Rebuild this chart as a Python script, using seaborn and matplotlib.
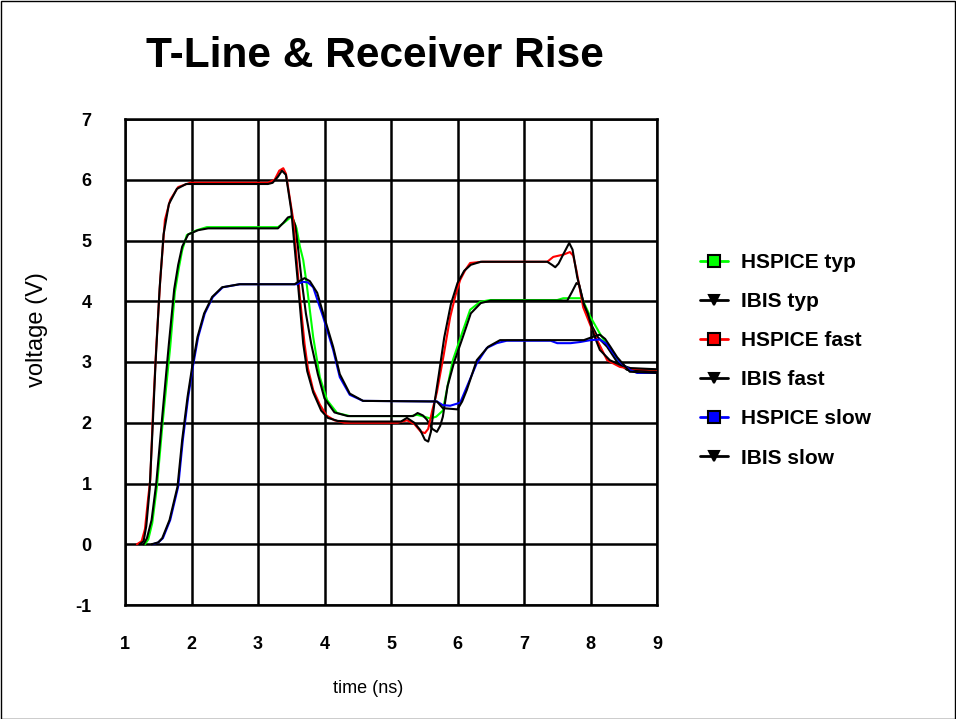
import matplotlib
matplotlib.use("Agg")
import matplotlib.pyplot as plt
from matplotlib.lines import Line2D
from matplotlib.patches import Rectangle
import seaborn as sns
import pandas as pd

# ---------------- data ----------------
hs_fast_x = [1.18, 1.25, 1.3, 1.35, 1.38, 1.42, 1.47, 1.53, 1.6, 1.68, 1.8, 1.98, 3.15, 3.25, 3.32, 3.38, 3.42,
             3.53, 3.63, 3.7, 3.75, 3.83, 3.93, 4.03, 4.15, 4.3, 5.1, 5.24, 5.35, 5.45, 5.51, 5.56, 5.62, 5.69,
             5.79, 5.89, 5.97, 6.04, 6.12, 6.19, 6.38, 7.35, 7.44, 7.6, 7.69, 7.74, 7.79, 7.89, 8.0, 8.1, 8.25,
             8.44, 8.6, 9.0]
hs_fast_y = [0.0, 0.05, 0.25, 0.78, 1.06, 2.16, 3.25, 4.35, 5.34, 5.67, 5.88, 5.95, 5.95, 6.0, 6.15, 6.19, 6.1,
             5.34, 4.07, 3.3, 2.9, 2.54, 2.3, 2.12, 2.04, 2.0, 2.0, 2.04, 1.98, 1.85, 1.83, 1.9, 2.2, 2.5,
             3.1, 3.74, 4.1, 4.35, 4.52, 4.63, 4.65, 4.65, 4.73, 4.77, 4.81, 4.75, 4.5, 3.9, 3.6, 3.36, 3.03,
             2.92, 2.89, 2.87]

ibis_fast_x = [1.22, 1.28, 1.32, 1.37, 1.41, 1.46, 1.52, 1.58, 1.66, 1.78, 1.92, 3.15, 3.22, 3.3, 3.36, 3.42,
               3.5, 3.6, 3.68, 3.74, 3.83, 3.95, 4.05, 4.2, 4.4, 5.15, 5.24, 5.35, 5.44, 5.51, 5.56, 5.6, 5.65,
               5.72, 5.8, 5.9, 6.0, 6.1, 6.2, 6.35, 7.35, 7.42, 7.47, 7.52, 7.58, 7.68, 7.73, 7.8, 7.9, 7.96,
               8.05, 8.14, 8.29, 8.45, 8.6, 9.0]
ibis_fast_y = [0.0, 0.05, 0.3, 0.9, 1.8, 3.0, 4.2, 5.1, 5.6, 5.85, 5.93, 5.93, 5.95, 6.05, 6.15, 6.08,
               5.5, 4.3, 3.3, 2.85, 2.5, 2.2, 2.08, 2.03, 2.02, 2.02, 2.08, 2.0, 1.88, 1.72, 1.69, 1.85, 2.3,
               2.8, 3.4, 3.95, 4.3, 4.5, 4.6, 4.65, 4.65, 4.6, 4.56, 4.62, 4.75, 4.96, 4.85, 4.4, 3.95, 3.8,
               3.45, 3.2, 3.03, 2.95, 2.9, 2.88]

hs_typ_x = [1.3, 1.35, 1.41, 1.48, 1.57, 1.68, 1.75, 1.81, 1.86, 1.93, 2.08, 2.23, 3.3, 3.4, 3.51, 3.58, 3.63,
            3.68, 3.73, 3.78, 3.83, 3.93, 4.04, 4.19, 4.38, 5.3, 5.39, 5.5, 5.59, 5.68, 5.78, 5.85, 5.93, 6.07,
            6.19, 6.34, 6.49, 7.5, 7.59, 7.87, 8.0, 8.14, 8.29, 8.44, 8.6, 9.0]
hs_typ_y = [0.0, 0.08, 0.35, 0.95, 2.05, 3.25, 4.15, 4.55, 4.84, 5.09, 5.17, 5.22, 5.22, 5.3, 5.4, 5.2, 4.9,
            4.68, 4.3, 3.85, 3.41, 2.75, 2.37, 2.16, 2.11, 2.11, 2.13, 2.1, 2.07, 2.1, 2.2, 2.6, 3.03, 3.48,
            3.86, 3.99, 4.02, 4.02, 4.05, 4.05, 3.74, 3.47, 3.2, 2.98, 2.88, 2.85]

ibis_typ_x = [1.28, 1.33, 1.4, 1.47, 1.56, 1.66, 1.74, 1.8, 1.86, 1.95, 2.1, 2.25, 3.3, 3.38, 3.45, 3.51, 3.56,
              3.6, 3.65, 3.72, 3.8, 3.9, 4.0, 4.15, 4.35, 5.33, 5.4, 5.48, 5.54, 5.62, 5.69, 5.74, 5.78, 5.85,
              5.95, 6.08, 6.2, 6.35, 6.5, 7.65, 7.72, 7.79, 7.83, 7.9, 8.0, 8.11, 8.25, 8.4, 8.55, 9.0]
ibis_typ_y = [0.0, 0.1, 0.4, 1.0, 2.1, 3.3, 4.2, 4.6, 4.9, 5.1, 5.17, 5.2, 5.2, 5.29, 5.38, 5.4, 5.25,
              4.9, 4.4, 3.8, 3.3, 2.8, 2.4, 2.17, 2.11, 2.11, 2.16, 2.12, 2.05, 1.9, 1.85, 1.95, 2.1, 2.6,
              3.0, 3.41, 3.8, 3.97, 4.01, 4.01, 4.15, 4.3, 4.27, 3.95, 3.64, 3.41, 3.25, 3.0, 2.87, 2.84]

hs_slow_x = [1.42, 1.5, 1.57, 1.68, 1.8, 1.87, 1.95, 2.02, 2.1, 2.2, 2.32, 2.47, 2.73, 3.58, 3.68, 3.75, 3.83,
             3.9, 3.98, 4.13, 4.23, 4.38, 4.58, 5.69, 5.78, 5.89, 6.04, 6.14, 6.29, 6.44, 6.59, 6.74, 7.4, 7.5,
             7.7, 7.85, 8.0, 8.14, 8.24, 8.34, 8.44, 8.59, 8.7, 9.0]
hs_slow_y = [0.0, 0.03, 0.1, 0.4, 0.95, 1.72, 2.42, 2.92, 3.41, 3.8, 4.07, 4.23, 4.28, 4.28, 4.32, 4.31, 4.23,
             4.0, 3.74, 3.2, 2.75, 2.46, 2.36, 2.35, 2.29, 2.28, 2.33, 2.59, 2.98, 3.23, 3.31, 3.35, 3.35, 3.31,
             3.31, 3.33, 3.36, 3.37, 3.3, 3.15, 3.0, 2.87, 2.82, 2.82]

ibis_slow_x = [1.4, 1.5, 1.56, 1.67, 1.79, 1.86, 1.94, 2.01, 2.09, 2.19, 2.31, 2.46, 2.72, 3.55, 3.62, 3.7,
               3.78, 3.89, 3.98, 4.13, 4.23, 4.38, 4.58, 5.69, 5.78, 6.0, 6.07, 6.14, 6.29, 6.46, 6.64, 7.9,
               7.95, 8.05, 8.14, 8.22, 8.3, 8.4, 8.59, 9.0]
ibis_slow_y = [0.0, 0.03, 0.1, 0.4, 0.95, 1.72, 2.42, 2.92, 3.41, 3.8, 4.07, 4.23, 4.28, 4.28, 4.33, 4.38,
               4.33, 4.14, 3.8, 3.25, 2.8, 2.48, 2.36, 2.35, 2.24, 2.22, 2.35, 2.54, 3.03, 3.25, 3.36, 3.36,
               3.38, 3.42, 3.45, 3.38, 3.25, 3.08, 2.84, 2.82]

series_names = ["HSPICE typ", "IBIS typ", "HSPICE fast", "IBIS fast", "HSPICE slow", "IBIS slow"]
series_x = [hs_typ_x, ibis_typ_x, hs_fast_x, ibis_fast_x, hs_slow_x, ibis_slow_x]
series_y = [hs_typ_y, ibis_typ_y, hs_fast_y, ibis_fast_y, hs_slow_y, ibis_slow_y]
series_colors = ["#00FF00", "#000000", "#FF0000", "#000000", "#0000FF", "#000000"]
series_markers = ["s", "v", "s", "v", "s", "v"]

x_ticks = [1, 2, 3, 4, 5, 6, 7, 8, 9]
y_ticks = [-1, 0, 1, 2, 3, 4, 5, 6, 7]

# ---------------- plot ----------------
sns.set_theme(style="white")
plt.rcParams["font.family"] = ["Liberation Sans", "DejaVu Sans"]
plt.rcParams["text.color"] = "black"
plt.rcParams["axes.labelcolor"] = "black"
plt.rcParams["xtick.color"] = "black"
plt.rcParams["ytick.color"] = "black"

fig = plt.figure(figsize=(9.56, 7.19), dpi=100)
ax = fig.add_axes([125 / 956, 1 - 605 / 719, (657 - 125) / 956, (605 - 119) / 719])

for name, xs, ys, c in zip(series_names, series_x, series_y, series_colors):
    df = pd.DataFrame({"time": xs, "voltage": ys})
    sns.lineplot(data=df, x="time", y="voltage", ax=ax, color=c, lw=1.5,
                 sort=False, estimator=None, legend=False, zorder=3)

ax.set_xlim(1, 9)
ax.set_ylim(-1, 7)
ax.set_xticks(x_ticks)
ax.set_yticks(y_ticks)
ax.set_xticklabels([str(v) for v in x_ticks], fontsize=13, fontweight="bold", color="black")
ax.set_yticklabels([str(v) for v in y_ticks], fontsize=13, fontweight="bold", color="black")
ax.tick_params(axis="both", length=0)
ax.tick_params(axis="x", pad=22)
ax.tick_params(axis="y", pad=24)
ax.grid(True, color="black", lw=1.8, zorder=1)
ax.set_axisbelow(True)
for s in ax.spines.values():
    s.set_color("black")
    s.set_linewidth(1.8)

ax.set_xlabel("time (ns)", fontsize=13, color="black")
ax.xaxis.set_label_coords((368 - 125) / 532, -(680 - 605) / 486)
ax.set_ylabel("voltage (V)", fontsize=17, color="black")
ax.yaxis.set_label_coords(-(125 - 48) / 532, (605 - 330) / 486)

fig.text(375 / 956, 1 - 56 / 719, "T-Line & Receiver Rise", fontsize=30.5, fontweight="bold",
         ha="center", va="center", color="black")

handles = []
for name, c, m in zip(series_names, series_colors, series_markers):
    handles.append(Line2D([0], [0], color=c, lw=2, marker=m, markersize=8 if m == "s" else 6.5,
                          markerfacecolor=c, markeredgecolor="black", markeredgewidth=1.5))
leg = fig.legend(handles, series_names, loc="upper left", bbox_to_anchor=(700 / 956, 1 - 253 / 719),
                 frameon=False, borderpad=0, borderaxespad=0, handlelength=1.35, handletextpad=0.62,
                 labelspacing=0.965, prop={"size": 15, "weight": "bold"})
for t in leg.get_texts():
    t.set_color("black")

fig.add_artist(Rectangle((0.5 / 956, 0.5 / 719), 1 - 1.5 / 956, 1 - 1.5 / 719, transform=fig.transFigure,
                         fill=False, edgecolor="black", lw=1))

fig.savefig("out.png", dpi=100, facecolor="white")
